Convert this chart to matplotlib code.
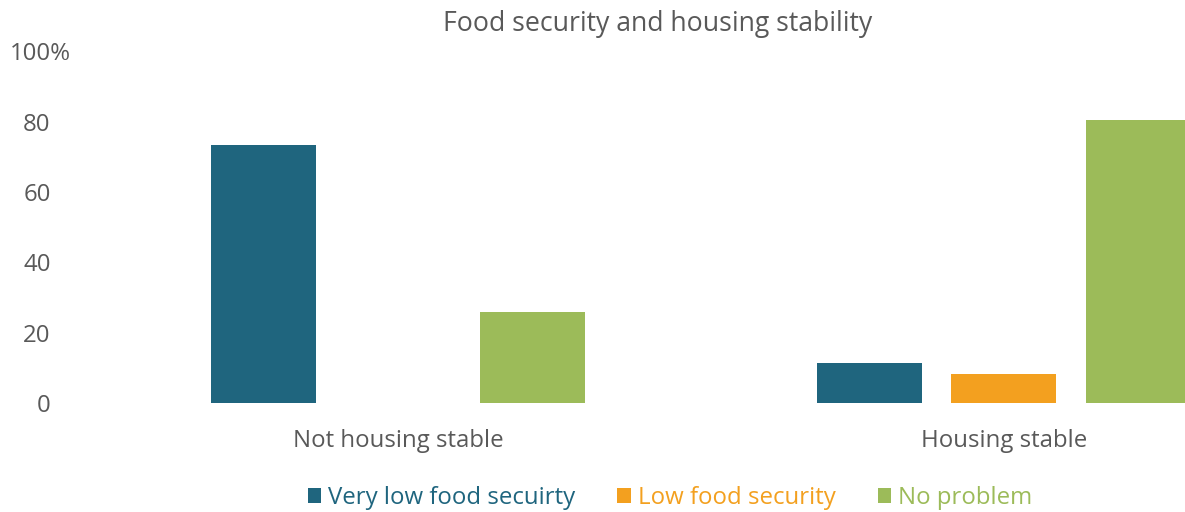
import matplotlib
matplotlib.use("Agg")
import matplotlib.pyplot as plt
from matplotlib.patches import Patch
from matplotlib.transforms import ScaledTranslation
import numpy as np

plt.rcParams['font.family'] = ['Open Sans', 'DejaVu Sans']

categories = ["Not housing stable", "Housing stable"]
series_names = ["Very low food secuirty", "Low food security", "No problem"]
very_low = [73.5, 11.4]
low = [0.0, 8.3]
no_problem = [25.8, 80.4]
y_ticks = [0, 20, 40, 60, 80, 100]
y_tick_labels = ["0", "20", "40", "60", "80", "100%"]

colors = ["#1F657E", "#F3A01F", "#9CBB59"]
text_gray = "#595959"
fs = 17.3
title_fs = 19.2

W, H, DPI = 1185, 512, 100
fig = plt.figure(figsize=(W / DPI, H / DPI), dpi=DPI)
ax = fig.add_axes([95 / W, 109 / H, (W - 95) / W, 351.5 / H])

x = np.arange(len(categories))
step = 0.222
width = 0.173
for i, (vals, c) in enumerate(zip([very_low, low, no_problem], colors)):
    ax.bar(x + (i - 1) * step, vals, width=width, color=c, edgecolor="none")

ax.set_xlim(-0.5, 1.299)
ax.set_ylim(0, 100)
ax.set_yticks(y_ticks)
ax.set_yticklabels(y_tick_labels)
ax.set_xticks(x)
ax.set_xticklabels(categories)
for s in ax.spines.values():
    s.set_visible(False)
ax.tick_params(axis="y", length=0, pad=32, labelsize=fs, labelcolor=text_gray)
ax.tick_params(axis="x", length=0, pad=19, labelsize=fs, labelcolor=text_gray)

# let the percent sign hang past the aligned numbers
lbl = ax.get_yticklabels()[-1]
lbl.set_transform(lbl.get_transform() + ScaledTranslation(20 / DPI, 0, fig.dpi_scale_trans))

fig.text(658 / W, 1 - 24 / H, "Food security and housing stability",
         ha="center", va="center", fontsize=title_fs, color=text_gray)

handles = [Patch(facecolor=c, edgecolor="none") for c in colors]
leg = fig.legend(handles, series_names, loc="center", bbox_to_anchor=(670 / W, 1 - 498 / H),
                 ncol=3, frameon=False, fontsize=fs, handlelength=0.55, handleheight=0.55,
                 handletextpad=0.3, columnspacing=1.75)
for t, c in zip(leg.get_texts(), colors):
    t.set_color(c)

fig.savefig("out.png", dpi=DPI)
